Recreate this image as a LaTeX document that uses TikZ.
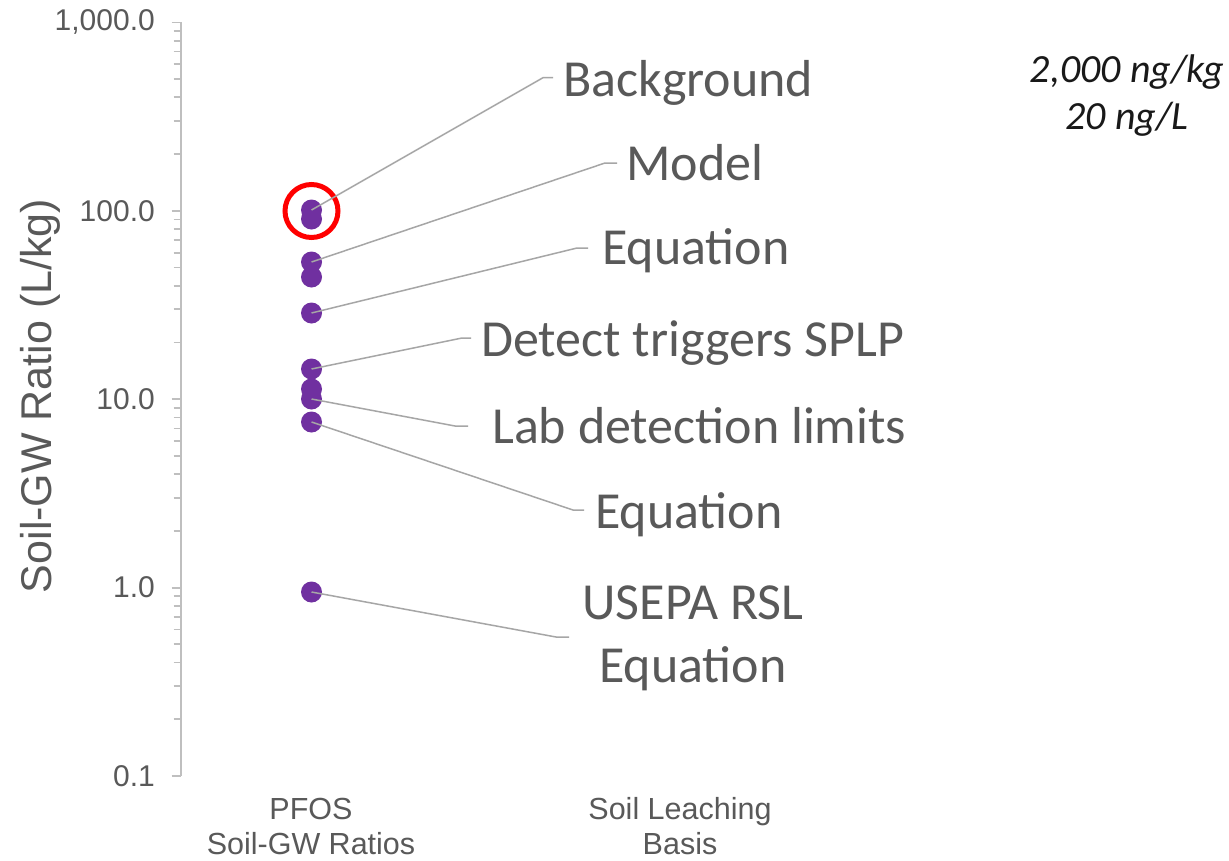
\documentclass[tikz,border=0pt]{standalone}
\usepackage{fontspec}
\setmainfont{Carlito}
\newfontfamily\arialf{Liberation Sans}
\begin{document}
\begin{tikzpicture}[x=1pt,y=-1pt,
  axisline/.style={draw=axisgray,line width=2pt},
  tickmark/.style={draw=axisgray,line width=1.8pt},
  ticklabel/.style={anchor=east,inner sep=0pt,text=labelgray,font=\arialf\fontsize{30}{34}\selectfont},
  catlabel/.style={align=center,inner sep=0pt,text=labelgray,font=\arialf\fontsize{30.5}{35}\selectfont},
  datadot/.style={circle,fill=dotpurple,minimum size=21pt,inner sep=0pt},
  leader/.style={draw=leadgray,line width=1.5pt},
  calltext/.style={anchor=base west,inner sep=0pt,text=labelgray,font=\fontsize{52}{63}\selectfont},
  notetext/.style={anchor=base,inner sep=0pt,text=black!90,font=\itshape\fontsize{40}{40}\selectfont},
]
\definecolor{axisgray}{HTML}{BFBFBF}
\definecolor{labelgray}{HTML}{595959}
\definecolor{leadgray}{HTML}{A6A6A6}
\definecolor{dotpurple}{HTML}{7030A0}
\definecolor{ringred}{HTML}{FF0000}

\useasboundingbox[fill=white] (0,0) rectangle (1229,860);

% logarithmic value axis: 0.1 at y=776, one decade = 188.4
\coordinate (axtop) at (181,22.4);
\coordinate (axbot) at (181,776);
\draw[axisline] (axtop) -- (axbot);
\foreach \d in {0,1,2,3}{
  \foreach \k in {2,...,9}{
    \pgfmathsetmacro{\yy}{776-188.4*(\d+log10(\k))}
    \draw[tickmark] (173.5,\yy) -- (181,\yy);
  }
}
\foreach \d/\lab in {0/0.1,1/1.0,2/10.0,3/100.0,4/{1,000.0}}{
  \pgfmathsetmacro{\yy}{776-188.4*\d}
  \draw[tickmark] (171.5,\yy) -- (181,\yy);
  \node[ticklabel] (tl\d) at (155,\yy) {\lab};
}

% axis title
\node[rotate=90,inner sep=0pt,text=labelgray,font=\arialf\fontsize{43}{48}\selectfont] (ytitle) at (40,396) {Soil-GW Ratio (L/kg)};

% category labels
\node[catlabel] (cat1) at (311,826) {PFOS\\Soil-GW Ratios};
\node[catlabel] (cat2) at (680,826) {Soil Leaching\\Basis};

% data points
\foreach \n/\yy in {1/210,2/219,3/262,4/277,5/313,6/369,7/389,8/399,9/422,10/592}{
  \node[datadot] (p\n) at (311.5,\yy) {};
}

% highlight ring
\node[circle,draw=ringred,line width=5pt,minimum size=53pt,inner sep=0pt] (ring) at (311.5,211) {};

% callout texts
\node[calltext] (tBack) at (563,96.7) {Background};
\node[calltext] (tModel) at (626,180) {Model};
\node[calltext] (tEq1) at (602,264.3) {Equation};
\node[calltext] (tDet) at (481,356.7) {Detect triggers SPLP};
\node[calltext] (tLab) at (492,443.3) {Lab detection limits};
\node[calltext] (tEq2) at (595,528) {Equation};
\node[align=center,inner sep=0pt,text=labelgray,font=\fontsize{52}{63}\selectfont] (tRSL) at (693,638) {USEPA RSL\\Equation};

% leader line ends
\coordinate (b1) at (543,77.7);  \coordinate (e1) at (553,77.7);
\coordinate (b2) at (605,163);   \coordinate (e2) at (617,163);
\coordinate (b3) at (577,248);   \coordinate (e3) at (588,248);
\coordinate (b4) at (462,338);   \coordinate (e4) at (471,338);
\coordinate (b5) at (455,426);   \coordinate (e5) at (468,426);
\coordinate (b6) at (573,510);   \coordinate (e6) at (584,510);
\coordinate (b7) at (556,637);   \coordinate (e7) at (569,637);

\draw[leader] (p1.center) -- (b1) -- (e1);
\draw[leader] (p3.center) -- (b2) -- (e2);
\draw[leader] (p5.center) -- (b3) -- (e3);
\draw[leader] (p6.center) -- (b4) -- (e4);
\draw[leader] (p8.center) -- (b5) -- (e5);
\draw[leader] (p9.center) -- (b6) -- (e6);
\draw[leader] (p10.center) -- (b7) -- (e7);

% concentration note
\node[notetext] (note1) at (1127,82) {2,000 ng/kg};
\node[notetext] (note2) at (1127,129) {20 ng/L};
\end{tikzpicture}
\end{document}
